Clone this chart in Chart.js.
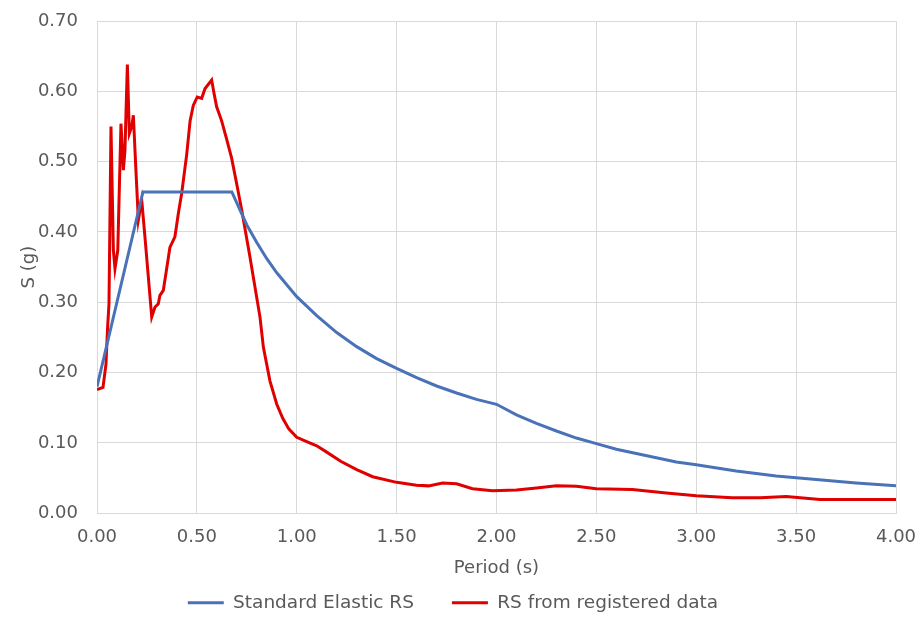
<!DOCTYPE html>
<html>
<head>
<meta charset="utf-8">
<script src="https://cdn.jsdelivr.net/npm/chart.js@4/dist/chart.umd.min.js"></script>
<style>
html,body{margin:0;padding:0;background:#ffffff;}
#wrap{width:916px;height:632px;position:relative;}
</style>
</head>
<body>
<div id="wrap"><canvas id="c"></canvas></div>
<script>
// ---- Data ----
const seriesNames = ["Standard Elastic RS", "RS from registered data"];

const elasticPeriods = [0.00, 0.23, 0.675, 0.75, 0.80, 0.85, 0.90, 0.95, 1.00, 1.10, 1.20, 1.30, 1.40, 1.50, 1.60, 1.70, 1.80, 1.90, 2.00, 2.10, 2.20, 2.30, 2.40, 2.50, 2.60, 2.70, 2.80, 2.90, 3.00, 3.20, 3.40, 3.60, 3.80, 4.00];
const elasticValues  = [0.180, 0.457, 0.457, 0.410, 0.385, 0.362, 0.342, 0.325, 0.308, 0.281, 0.257, 0.237, 0.220, 0.206, 0.193, 0.181, 0.171, 0.162, 0.155, 0.140, 0.128, 0.117, 0.107, 0.099, 0.091, 0.085, 0.079, 0.073, 0.069, 0.060, 0.053, 0.048, 0.043, 0.039];

const recordPeriods = [0.000, 0.030, 0.045, 0.053, 0.060, 0.070, 0.082, 0.090, 0.104, 0.120, 0.132, 0.140, 0.152, 0.162, 0.174, 0.182, 0.194, 0.207, 0.224, 0.240, 0.274, 0.290, 0.307, 0.315, 0.332, 0.365, 0.390, 0.407, 0.424, 0.449, 0.466, 0.482, 0.502, 0.524, 0.541, 0.574, 0.586, 0.599, 0.624, 0.649, 0.674, 0.699, 0.724, 0.766, 0.816, 0.833, 0.866, 0.900, 0.930, 0.960, 1.000, 1.050, 1.100, 1.150, 1.220, 1.300, 1.380, 1.500, 1.600, 1.660, 1.730, 1.800, 1.880, 1.980, 2.100, 2.200, 2.300, 2.400, 2.500, 2.680, 2.850, 3.000, 3.180, 3.320, 3.450, 3.620, 4.000];
const recordValues  = [0.176, 0.179, 0.212, 0.264, 0.298, 0.550, 0.374, 0.348, 0.374, 0.554, 0.488, 0.516, 0.638, 0.540, 0.550, 0.566, 0.493, 0.417, 0.445, 0.393, 0.279, 0.293, 0.298, 0.310, 0.317, 0.378, 0.393, 0.426, 0.455, 0.510, 0.558, 0.580, 0.592, 0.590, 0.604, 0.616, 0.597, 0.578, 0.558, 0.532, 0.505, 0.469, 0.432, 0.364, 0.279, 0.236, 0.188, 0.155, 0.135, 0.120, 0.108, 0.102, 0.096, 0.087, 0.074, 0.062, 0.052, 0.044, 0.040, 0.039, 0.043, 0.042, 0.035, 0.032, 0.033, 0.036, 0.039, 0.0385, 0.035, 0.034, 0.029, 0.025, 0.022, 0.022, 0.024, 0.0195, 0.0195];

const xTickStep = 0.5, xMin = 0, xMax = 4;
const yTickStep = 0.1, yMin = 0, yMax = 0.7;
const xTitle = "Period (s)";
const yTitle = "S (g)";

// ---- Build chart ----
const toPts = (xs, ys) => xs.map((x, i) => ({x: x, y: ys[i]}));
const BLUE = "#4a72b8", RED = "#e00000", TXT = "#595959", GRID = "#d9d9d9";
const FONT = "'DejaVu Sans', sans-serif";

new Chart(document.getElementById("c"), {
  type: "line",
  data: {
    datasets: [
      {label: seriesNames[0], data: toPts(elasticPeriods, elasticValues), borderColor: BLUE, backgroundColor: BLUE, borderWidth: 3, pointRadius: 0, tension: 0, fill: false},
      {label: seriesNames[1], data: toPts(recordPeriods, recordValues), borderColor: RED, backgroundColor: RED, borderWidth: 3, pointRadius: 0, tension: 0, fill: false}
    ]
  },
  options: {
    responsive: true,
    maintainAspectRatio: false,
    animation: false,
    layout: {padding: {top: 0, right: 10, bottom: 10, left: 0}},
    plugins: {
      tooltip: {enabled: false},
      legend: {
        position: "bottom",
        labels: {
          color: TXT,
          font: {family: FONT, size: 18.5},
          boxWidth: 36,
          boxHeight: 3,
          padding: 38,
          generateLabels: (chart) => {
            const items = Chart.defaults.plugins.legend.labels.generateLabels(chart);
            items.forEach(it => { it.lineWidth = 0; it.fillStyle = chart.data.datasets[it.datasetIndex].borderColor; });
            return items;
          }
        }
      }
    },
    scales: {
      x: {
        type: "linear", min: xMin, max: xMax,
        ticks: {stepSize: xTickStep, color: TXT, font: {family: FONT, size: 18}, padding: 13, callback: v => Number(v).toFixed(2), maxRotation: 0},
        grid: {color: GRID, drawTicks: false, lineWidth: 1},
        border: {color: GRID},
        title: {display: true, text: xTitle, color: TXT, font: {family: FONT, size: 18}, padding: {top: -3, bottom: -24}},
        afterFit: (s) => { s.paddingRight = 20; }
      },
      y: {
        min: yMin, max: yMax,
        ticks: {stepSize: yTickStep, color: TXT, font: {family: FONT, size: 18}, padding: 19, callback: v => Number(v).toFixed(2)},
        grid: {color: GRID, drawTicks: false, lineWidth: 1},
        border: {color: GRID},
        title: {display: true, text: yTitle, color: TXT, font: {family: FONT, size: 18}, padding: {top: 19, bottom: 0}},
        afterFit: (s) => { s.width = 97; s.paddingTop = 21; s.paddingBottom = 0; }
      }
    }
  }
});
</script>
</body>
</html>
